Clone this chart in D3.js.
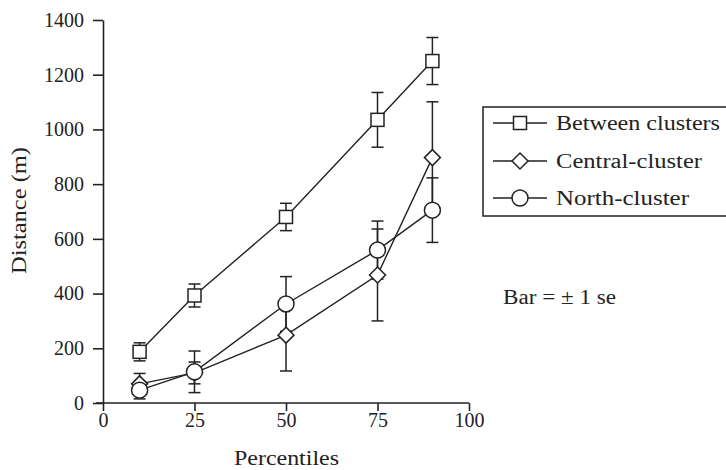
<!DOCTYPE html>
<html>
<head>
<meta charset="utf-8">
<script src="https://cdn.jsdelivr.net/npm/d3@7"></script>
<style>
  body { margin: 0; background: #fff; }
  svg { display: block; }
</style>
</head>
<body>
<svg id="chart" width="726" height="470"></svg>
<script>
// data
var percentiles = [10, 25, 50, 75, 90];
var betweenMean = [187, 393, 680, 1035, 1250];
var betweenSe = [33, 42, 50, 100, 86];
var centralMean = [70, 110, 248, 468, 897];
var centralSe = [38, 40, 131, 168, 204];
var northMean = [47, 114, 362, 559, 705];
var northSe = [32, 76, 100, 106, 118];

var xTicks = [0, 25, 50, 75, 100];
var yTicks = [0, 200, 400, 600, 800, 1000, 1200, 1400];

var seriesNames = ["Between clusters", "Central-cluster", "North-cluster"];
var seriesSymbols = ["square", "diamond", "circle"];

var svg = d3.select("#chart");

var x = d3.scaleLinear().domain([0, 100]).range([103, 469]);
var y = d3.scaleLinear().domain([0, 1400]).range([403, 20]);

// axes
var xAxis = svg.append("g")
  .attr("transform", "translate(0," + y(0) + ")")
  .call(d3.axisBottom(x).tickValues(xTicks).tickFormat(d3.format("d"))
    .tickSize(8).tickPadding(2).tickSizeOuter(0));
var yAxis = svg.append("g")
  .attr("transform", "translate(" + x(0) + ",0)")
  .call(d3.axisLeft(y).tickValues(yTicks).tickFormat(d3.format("d"))
    .tickSize(10).tickPadding(9).tickSizeOuter(0));

[xAxis, yAxis].forEach(function(ax) {
  ax.attr("font-family", "Liberation Serif").attr("font-size", 20);
  ax.select(".domain").attr("stroke", "#222").attr("stroke-width", 1.6);
  ax.selectAll(".tick line").attr("stroke", "#222").attr("stroke-width", 1.6);
  ax.selectAll(".tick text").attr("fill", "#222");
});
// x axis starts at the 0 tick of the y axis, like the scan
xAxis.select(".domain").attr("d", "M" + (x(0) - 7) + ",0H" + x(100));

// the scan uses a wider book face, so stretch the text to its width
function label(sel, txt, width) {
  return sel.attr("font-family", "Liberation Serif")
    .attr("font-size", 20)
    .attr("fill", "#222")
    .attr("textLength", width)
    .attr("lengthAdjust", "spacingAndGlyphs")
    .text(txt);
}

label(svg.append("text"), "Percentiles", 105)
  .attr("x", x(50) - 52)
  .attr("y", 465);

label(svg.append("text"), "Distance (m)", 127)
  .attr("transform", "translate(26,274) rotate(-90)");

function drawMarker(g, kind, cx, cy) {
  if (kind == "square") {
    g.append("rect")
      .attr("x", cx - 6.5).attr("y", cy - 6.5)
      .attr("width", 13).attr("height", 13)
      .attr("fill", "#fff").attr("stroke", "#222").attr("stroke-width", 1.5);
  } else if (kind == "diamond") {
    g.append("path")
      .attr("d", "M" + cx + "," + (cy - 8) + "L" + (cx + 8) + "," + cy +
        "L" + cx + "," + (cy + 8) + "L" + (cx - 8) + "," + cy + "Z")
      .attr("fill", "#fff").attr("stroke", "#222").attr("stroke-width", 1.5);
  } else {
    g.append("circle")
      .attr("cx", cx).attr("cy", cy).attr("r", 8)
      .attr("fill", "#fff").attr("stroke", "#222").attr("stroke-width", 1.5);
  }
}

var allMeans = [betweenMean, centralMean, northMean];
var allSe = [betweenSe, centralSe, northSe];

var line = d3.line()
  .x(function(d) { return x(d[0]); })
  .y(function(d) { return y(d[1]); });

var plotG = svg.append("g");
var lineG = plotG.append("g");
var barG = plotG.append("g");
var markG = plotG.append("g");

allMeans.forEach(function(means, s) {
  var pts = percentiles.map(function(p, i) { return [p, means[i]]; });
  lineG.append("path")
    .attr("d", line(pts))
    .attr("fill", "none")
    .attr("stroke", "#222")
    .attr("stroke-width", 1.4);

  percentiles.forEach(function(p, i) {
    var cx = x(p);
    var yHi = y(means[i] + allSe[s][i]);
    var yLo = y(Math.max(0, means[i] - allSe[s][i]));
    barG.append("line")
      .attr("x1", cx).attr("x2", cx).attr("y1", yHi).attr("y2", yLo)
      .attr("stroke", "#222").attr("stroke-width", 1.5);
    [yHi, yLo].forEach(function(yy) {
      barG.append("line")
        .attr("x1", cx - 6).attr("x2", cx + 6).attr("y1", yy).attr("y2", yy)
        .attr("stroke", "#222").attr("stroke-width", 1.5);
    });
  });
});

// markers drawn last so they cover the bars; north on top of central
[1, 0, 2].forEach(function(s) {
  percentiles.forEach(function(p, i) {
    drawMarker(markG, seriesSymbols[s], x(p), y(allMeans[s][i]));
  });
});

// legend
var legend = svg.append("g");
legend.append("rect")
  .attr("x", 483).attr("y", 107)
  .attr("width", 260).attr("height", 109)
  .attr("fill", "none").attr("stroke", "#222").attr("stroke-width", 1.5);

var rowY = [123, 161, 198];
var nameWidths = [164, 146, 133];
seriesNames.forEach(function(name, k) {
  legend.append("line")
    .attr("x1", 493).attr("x2", 547)
    .attr("y1", rowY[k]).attr("y2", rowY[k])
    .attr("stroke", "#222").attr("stroke-width", 1.4);
  drawMarker(legend, seriesSymbols[k], 520, rowY[k]);
  label(legend.append("text"), name, nameWidths[k])
    .attr("x", 556).attr("y", rowY[k] + 7);
});

label(svg.append("text"), "Bar = \u00b1 1 se", 113)
  .attr("x", 503).attr("y", 304);
</script>
</body>
</html>
